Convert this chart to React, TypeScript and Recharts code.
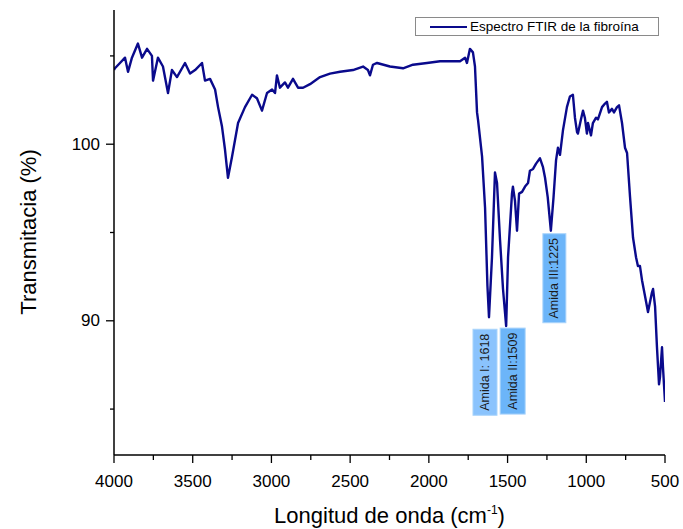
import React from 'react';
import { LineChart, Line, XAxis, YAxis, ReferenceDot, Legend } from 'recharts';

// FTIR spectrum (wavenumber cm-1 -> transmittance %)
const wavenumbers = [
  4000, 3994, 3962, 3930, 3911, 3886, 3848, 3822, 3790, 3759, 3752, 3721, 3689, 3657, 3632, 3600,
  3549, 3517, 3485, 3441, 3422, 3390, 3358, 3339, 3314, 3295, 3276, 3250, 3212, 3168, 3123, 3092,
  3060, 3028, 2996, 2977, 2965, 2946, 2914, 2895, 2863, 2831, 2799, 2755, 2691, 2628, 2564, 2482,
  2418, 2387, 2374, 2355, 2329, 2247, 2164, 2101, 2012, 1929, 1847, 1802, 1770, 1758, 1739, 1720,
  1707, 1694, 1688, 1662, 1643, 1628, 1618, 1599, 1580, 1567, 1548, 1529, 1509, 1497, 1472, 1466,
  1453, 1440, 1427, 1408, 1389, 1370, 1358, 1338, 1319, 1294, 1275, 1262, 1245, 1225, 1208, 1192,
  1180, 1167, 1148, 1123, 1104, 1085, 1072, 1059, 1053, 1034, 1021, 1009, 996, 989, 970, 958,
  938, 926, 900, 881, 869, 856, 837, 824, 805, 792, 773, 754, 741, 722, 703, 684,
  672, 659, 646, 627, 608, 583, 576, 563, 551, 538, 532, 519, 513, 500,
];
const transmittance = [
  104.2, 104.3, 104.6, 104.9, 104.1, 104.9, 105.7, 104.9, 105.4, 105.0, 103.6, 104.9, 104.4, 102.9, 104.2, 103.8,
  104.6, 104.0, 104.2, 104.6, 103.6, 103.7, 103.1, 102.1, 101.0, 99.7, 98.1, 99.3, 101.2, 102.1, 102.8, 102.6,
  101.9, 102.9, 103.1, 102.9, 103.9, 103.2, 103.5, 103.2, 103.7, 103.2, 103.2, 103.4, 103.8, 104.0, 104.1, 104.2,
  104.4, 104.2, 103.9, 104.5, 104.6, 104.4, 104.3, 104.5, 104.6, 104.7, 104.7, 104.7, 104.9, 104.6, 105.4, 105.2,
  104.4, 101.8, 101.4, 99.3, 96.4, 92.0, 90.2, 93.6, 98.4, 97.8, 94.6, 91.8, 89.7, 93.6, 97.2, 97.6,
  96.8, 95.1, 97.2, 97.3, 97.6, 97.8, 98.5, 98.6, 98.9, 99.2, 98.7, 98.1, 97.0, 95.1, 97.0, 99.1,
  99.8, 99.4, 100.8, 102.1, 102.7, 102.8, 101.5, 100.7, 100.6, 101.4, 101.9, 101.5, 100.6, 101.2, 100.5, 101.2,
  101.5, 101.4, 102.1, 102.3, 102.4, 101.8, 102.0, 101.8, 102.1, 102.2, 101.2, 99.8, 99.5, 97.0, 94.7, 93.6,
  93.1, 93.1, 92.3, 91.4, 90.5, 91.6, 91.8, 90.8, 88.5, 86.4, 86.8, 88.5, 87.4, 85.4,
];

const xTicks = [4000, 3750, 3500, 3250, 3000, 2750, 2500, 2250, 2000, 1750, 1500, 1250, 1000, 750, 500];
const yTicks = [85, 90, 95, 100, 105];

const peakLabels = ['Amida I: 1618', 'Amida II:1509', 'Amida III:1225'];
const peakWavenumbers = [1618, 1509, 1225];
const peakValues = [90.2, 89.7, 95.1];

const data = wavenumbers.map((wn, i) => ({ wn, t: transmittance[i] }));

const LINE = '#0a0a8c';
const FONT = '"Liberation Sans", Arial, sans-serif';

// box placement relative to the peak, in px
const boxes = [
  { dx: -16, dy: 12, w: 24, h: 86, fill: '#8ac3fd' },
  { dx: -6, dy: 2, w: 25, h: 86, fill: '#6cb5f9' },
  { dx: -8, dy: 3, w: 23, h: 89, fill: '#6cb5f9' },
];

const XTick = ({ x, y, payload }: any) => {
  const major = payload.value % 500 === 0;
  return (
    <g>
      <line x1={x} y1={y} x2={x} y2={y + (major ? 8 : 5)} stroke="#000" strokeWidth={1.3} />
      {major && (
        <text x={x} y={y + 32} textAnchor="middle" fontSize={17} fill="#000">
          {payload.value}
        </text>
      )}
    </g>
  );
};

const YTick = ({ x, y, payload }: any) => {
  const major = payload.value % 10 === 0;
  return (
    <g>
      <line x1={x - (major ? 8 : 4)} y1={y} x2={x} y2={y} stroke="#000" strokeWidth={1.3} />
      {major && (
        <text x={x - 14} y={y} textAnchor="end" dominantBaseline="central" fontSize={17} fill="#000">
          {payload.value}
        </text>
      )}
    </g>
  );
};

const PeakBox = (i: number) => (props: any) => {
  const { cx, cy } = props;
  const b = boxes[i];
  const left = cx + b.dx;
  const top = cy + b.dy;
  return (
    <g>
      <rect x={left} y={top} width={b.w} height={b.h} fill={b.fill} stroke="#a9d4fb" strokeWidth={1} />
      <text
        x={left + b.w / 2}
        y={top + b.h / 2}
        transform={`rotate(-90, ${left + b.w / 2}, ${top + b.h / 2})`}
        textAnchor="middle"
        dominantBaseline="central"
        fontSize={12.5}
        fill="#1a1a1a"
      >
        {peakLabels[i]}
      </text>
    </g>
  );
};

const LegendBox = () => (
  <div
    style={{
      position: 'absolute',
      left: 415,
      top: 17,
      width: 244,
      height: 19,
      boxSizing: 'border-box',
      border: '1px solid #8a8a8a',
      background: '#fff',
      display: 'flex',
      alignItems: 'center',
      fontFamily: FONT,
      fontSize: 13.5,
      color: '#000',
      whiteSpace: 'nowrap',
    }}
  >
    <span style={{ display: 'inline-block', width: 37, borderTop: `2px solid ${LINE}`, marginLeft: 14, marginRight: 3 }} />
    Espectro FTIR de la fibroína
  </div>
);

export default function App() {
  return (
    <div style={{ position: 'absolute', left: 0, top: 0, width: 683, height: 529, background: '#fff', fontFamily: FONT }}>
      <LineChart width={683} height={529} data={data} margin={{ top: 10, right: 18, bottom: 0, left: 0 }}>
        <XAxis
          dataKey="wn"
          type="number"
          domain={[500, 4000]}
          reversed
          allowDataOverflow
          ticks={xTicks}
          interval={0}
          tick={<XTick />}
          tickSize={0}
          tickMargin={0}
          tickLine={false}
          axisLine={{ stroke: '#000', strokeWidth: 1.5 }}
          height={74}
          label={{
            content: ({ viewBox }: any) => (
              <text x={viewBox.x + viewBox.width / 2} y={viewBox.y + 68} textAnchor="middle" fontSize={22} fill="#000">
                Longitud de onda (cm
                <tspan dy={-9} fontSize={12}>-1</tspan>
                <tspan dy={9}>)</tspan>
              </text>
            ),
          }}
        />
        <XAxis xAxisId="frame" orientation="top" type="number" domain={[500, 4000]} reversed height={0} tick={false} tickLine={false} axisLine={{ stroke: '#a0a0a0' }} />
        <YAxis
          type="number"
          domain={[82.4, 107.6]}
          allowDataOverflow
          ticks={yTicks}
          interval={0}
          tick={<YTick />}
          tickSize={0}
          tickMargin={0}
          tickLine={false}
          axisLine={{ stroke: '#000', strokeWidth: 1.5 }}
          width={114}
          label={{
            content: () => (
              <text x={28} y={232} transform="rotate(-90, 28, 232)" textAnchor="middle" dominantBaseline="central" fontSize={22} fill="#000">
                Transmitacia (%)
              </text>
            ),
          }}
        />
        <YAxis yAxisId="frame" orientation="right" type="number" domain={[82.4, 107.6]} width={0} tick={false} tickLine={false} axisLine={{ stroke: '#a0a0a0' }} />
        <Legend content={<LegendBox />} wrapperStyle={{ position: 'absolute', left: 0, top: 0, width: 0, height: 0 }} />
        <Line type="linear" dataKey="t" stroke={LINE} strokeWidth={2.4} strokeLinejoin="round" dot={false} isAnimationActive={false} name="Espectro FTIR de la fibroína" />
        {peakWavenumbers.map((wn, i) => (
          <ReferenceDot key={wn} x={wn} y={peakValues[i]} r={0} ifOverflow="visible" shape={PeakBox(i)} />
        ))}
      </LineChart>
    </div>
  );
}
